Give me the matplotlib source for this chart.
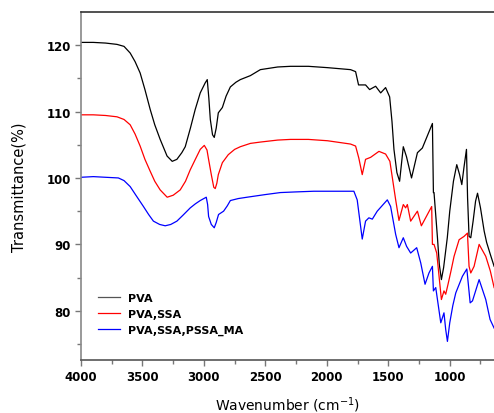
import numpy as np
import matplotlib
matplotlib.use("Agg")
import matplotlib.pyplot as plt

# FTIR spectra (wavenumber cm-1, transmittance %)
pva_x = [4000, 3900, 3800, 3707, 3650, 3600, 3560, 3519, 3480, 3437, 3400, 3356, 3300, 3258,
         3220, 3180, 3152, 3110, 3071, 3030, 2990, 2973, 2960, 2948, 2930, 2916, 2900, 2883,
         2850, 2820, 2785, 2740, 2704, 2622, 2541, 2400, 2296, 2150, 1995, 1807, 1766, 1742,
         1685, 1652, 1603, 1562, 1522, 1489, 1470, 1454, 1430, 1408, 1378, 1352, 1311, 1263,
         1223, 1141, 1133, 1128, 1100, 1085, 1068, 1050, 1020, 1000, 970, 943, 920, 902, 885,
         864, 855, 843, 829, 810, 790, 774, 750, 720, 700, 670, 639]
pva_y = [120.4, 120.4, 120.3, 120.1, 119.8, 118.8, 117.5, 115.8, 113.3, 110.3, 108.0, 105.8, 103.3, 102.5,
         102.8, 103.8, 104.7, 107.5, 110.3, 112.8, 114.3, 114.8, 112.0, 108.8, 106.5, 106.1, 107.5, 109.8,
         110.6, 112.3, 113.7, 114.4, 114.8, 115.4, 116.3, 116.7, 116.8, 116.8, 116.6, 116.3, 116.0, 114.0,
         114.0, 113.3, 113.8, 112.8, 113.6, 112.2, 108.5, 104.3, 100.8, 99.5, 104.7, 103.2, 100.0, 103.8,
         104.5, 108.2, 97.8, 97.8, 91.0, 87.0, 84.7, 86.5, 91.0, 95.0, 99.5, 102.0, 100.5, 99.0, 101.5,
         104.3, 97.0, 91.2, 91.0, 93.5, 96.5, 97.7, 95.5, 92.0, 90.3, 88.5, 86.7]

ssa_x = [4000, 3900, 3800, 3707, 3650, 3600, 3560, 3519, 3480, 3437, 3400, 3356, 3299, 3250,
         3193, 3150, 3112, 3070, 3030, 2997, 2975, 2964, 2940, 2920, 2908, 2895, 2883, 2850,
         2802, 2750, 2704, 2622, 2541, 2400, 2296, 2150, 1995, 1807, 1766, 1740, 1712, 1685,
         1644, 1576, 1522, 1487, 1440, 1413, 1378, 1359, 1345, 1318, 1263, 1231, 1147, 1141,
         1128, 1106, 1068, 1047, 1033, 1014, 990, 965, 924, 884, 856, 843, 829, 802, 761,
         707, 670, 639]
ssa_y = [109.5, 109.5, 109.4, 109.2, 108.8, 108.0, 106.6, 104.8, 102.8, 101.0, 99.5, 98.2, 97.1, 97.4,
         98.2, 99.5, 101.2, 102.8, 104.3, 104.9, 104.2, 103.0, 100.5, 98.6, 98.4, 99.2, 100.5, 102.3,
         103.5, 104.3, 104.7, 105.2, 105.4, 105.7, 105.8, 105.8, 105.6, 105.1, 104.8, 103.0, 100.5, 102.8,
         103.1, 104.0, 103.6, 102.5, 96.7, 93.6, 96.0, 95.5, 96.0, 93.5, 95.0, 92.8, 95.7, 90.0,
         90.0, 88.7, 81.7, 83.0, 82.5, 84.0, 86.0, 88.2, 90.7, 91.2, 91.7, 86.7, 85.7, 86.7, 90.0,
         88.2, 86.0, 83.5]

pssa_x = [4000, 3900, 3800, 3696, 3650, 3600, 3550, 3492, 3450, 3411, 3360, 3315, 3270, 3220,
          3170, 3111, 3070, 3030, 2981, 2970, 2962, 2940, 2916, 2900, 2881, 2840, 2810, 2785,
          2720, 2649, 2500, 2378, 2250, 2106, 1889, 1780, 1753, 1712, 1685, 1658, 1630, 1590,
          1508, 1481, 1440, 1413, 1378, 1351, 1318, 1269, 1236, 1201, 1169, 1141, 1133, 1114,
          1073, 1047, 1033, 1019, 1000, 975, 951, 897, 861, 834, 815, 761, 707, 672, 639]
pssa_y = [100.1, 100.2, 100.1, 100.0, 99.6, 98.7, 97.3, 95.7, 94.5, 93.5, 93.0, 92.8, 93.0, 93.5,
          94.4, 95.5, 96.1, 96.6, 97.1, 96.0, 94.2, 93.0, 92.5, 93.3, 94.5, 95.0, 95.8, 96.6,
          96.9, 97.1, 97.5, 97.8, 97.9, 98.0, 98.0, 98.0, 96.7, 90.8, 93.5, 94.0, 93.8, 95.0,
          96.7, 95.7, 91.5, 89.5, 91.0, 89.7, 88.7, 89.5, 87.2, 84.0, 85.7, 86.7, 83.0, 83.5,
          78.2, 79.7, 77.2, 75.4, 78.2, 80.8, 82.7, 85.2, 86.3, 81.2, 81.5, 84.7, 81.7, 78.7, 77.4]

labels = ['PVA', 'PVA,SSA', 'PVA,SSA,PSSA_MA']
colors = ['#000000', '#ff0000', '#0000ff']

fig = plt.figure(figsize=(4.94, 4.14), dpi=100)
ax = fig.add_axes([0.164, 0.128, 0.836, 0.841])

for xs, ys, lab, c in zip([pva_x, ssa_x, pssa_x], [pva_y, ssa_y, pssa_y], labels, colors):
    ax.plot(xs, ys, color=c, lw=0.9, label=lab)

ax.set_xlim(4000, 640)
ax.set_ylim(72.6, 125)
ax.set_xticks([4000, 3500, 3000, 2500, 2000, 1500, 1000])
ax.set_xticks(np.arange(3750, 640, -500), minor=True)
ax.set_yticks([80, 90, 100, 110, 120])
ax.set_yticks([75, 85, 95, 105, 115], minor=True)
ax.tick_params(which='major', direction='out', length=4, width=1, labelsize=8.5, color='#777777')
ax.tick_params(which='minor', direction='out', length=3, width=1, color='#777777')
for lab in ax.get_xticklabels() + ax.get_yticklabels():
    lab.set_fontweight('bold')

ax.spines['right'].set_visible(False)
ax.spines['left'].set_color('#888888')
ax.spines['bottom'].set_color('#555555')
ax.spines['top'].set_color('#333333')
for s in ax.spines.values():
    s.set_linewidth(1.2)

ax.set_xlabel('Wavenumber (cm$^{-1}$)', fontsize=10, labelpad=8)
ax.set_ylabel('Transmittance(%)', fontsize=10.5, labelpad=14)

leg = ax.legend(loc='center left', bbox_to_anchor=(0.04, 0.132), frameon=False,
                prop={'weight': 'bold', 'size': 8}, handlelength=2.0, borderpad=0,
                borderaxespad=0, handletextpad=0.7, labelspacing=0.5)
leg.get_lines()[0].set_color('#555555')

fig.savefig('out.png', dpi=100)
